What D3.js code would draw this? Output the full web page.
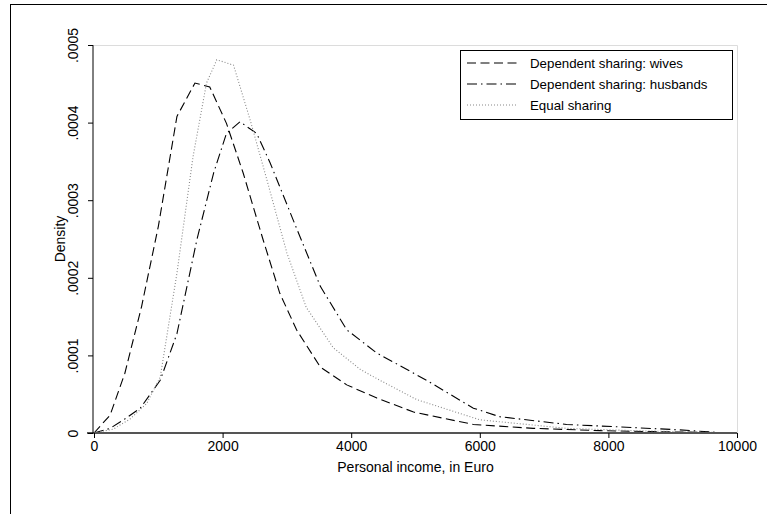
<!DOCTYPE html>
<html>
<head>
<meta charset="utf-8">
<script src="https://cdn.jsdelivr.net/npm/d3@7"></script>
<style>
  body { margin: 0; background: #fff; }
  text { font-family: "Liberation Sans", Arial, sans-serif; fill: #000; }
</style>
</head>
<body>
<div id="chart"></div>
<script>
// kernel density curves, income in Euro, density
const wivesIncome = [0, 250, 480, 740, 1000, 1290, 1570, 1800, 2060, 2320, 2630, 2890, 3150, 3520, 3930, 4400, 4970, 5900, 6830, 7870, 8900, 9750];
const wivesDensity = [0, 0.000023, 0.000077, 0.000163, 0.000266, 0.000408, 0.000451, 0.000446, 0.000399, 0.000335, 0.000249, 0.00018, 0.000133, 0.000085, 0.000062, 0.000045, 0.000027, 0.000011, 0.000006, 0.000003, 0.0000015, 0.0000005];

const husbandsIncome = [0, 250, 460, 720, 1030, 1290, 1600, 1860, 2060, 2270, 2530, 2740, 3100, 3520, 3930, 4400, 5170, 5900, 6310, 7350, 8390, 9110, 9750];
const husbandsDensity = [0, 0.000006, 0.000017, 0.000032, 0.000068, 0.000128, 0.000249, 0.000335, 0.000386, 0.000401, 0.000386, 0.000348, 0.000274, 0.000189, 0.000133, 0.000103, 0.000068, 0.000032, 0.000021, 0.000011, 0.000007, 0.000004, 0.0000005];

const equalIncome = [0, 300, 560, 820, 1030, 1290, 1540, 1750, 1910, 2170, 2430, 2690, 3000, 3300, 3720, 4140, 4400, 5020, 6000, 7350, 8400, 9750];
const equalDensity = [0, 0.000005, 0.000018, 0.000038, 0.000072, 0.000206, 0.000356, 0.000451, 0.000481, 0.000474, 0.000403, 0.000326, 0.000232, 0.000162, 0.00011, 0.000082, 0.00007, 0.000043, 0.000017, 0.000006, 0.000003, 0.0000005];

const seriesNames = ["Dependent sharing: wives", "Dependent sharing: husbands", "Equal sharing"];
const xTicks = [0, 2000, 4000, 6000, 8000, 10000];
const yTicks = [0, 0.0001, 0.0002, 0.0003, 0.0004, 0.0005];

const W = 767, H = 514;
const margin = { top: 45, right: 30, bottom: 81, left: 93 };

const svg = d3.select("#chart").append("svg")
    .attr("width", W)
    .attr("height", H);

svg.append("rect").attr("width", W).attr("height", H).attr("fill", "#fff");

// outer frame (runs off the right and bottom)
svg.append("rect")
    .attr("x", 10.5).attr("y", 4.5)
    .attr("width", 900).attr("height", 700)
    .attr("fill", "none").attr("stroke", "#000").attr("stroke-width", 1);

const x = d3.scaleLinear().domain([0, 10000]).range([margin.left + 1, W - margin.right]);
const y = d3.scaleLinear().domain([0, 0.0005]).range([H - margin.bottom, margin.top]);

// light plot region border (top, right)
svg.append("path")
    .attr("d", `M${x(0)},${y(0.0005) + 0.5}H${x(10000) + 0.5}V${y(0)}`)
    .attr("fill", "none").attr("stroke", "#dcdcdc").attr("stroke-width", 1);

const series = [
    { name: seriesNames[0], xs: wivesIncome, ys: wivesDensity, color: "#000", dash: "9,4.5" },
    { name: seriesNames[1], xs: husbandsIncome, ys: husbandsDensity, color: "#000", dash: "10,4,1.5,4" },
    { name: seriesNames[2], xs: equalIncome, ys: equalDensity, color: "#888", dash: "1,2" }
];

const line = d3.line()
    .x(d => x(d[0]))
    .y(d => y(d[1]));

series.forEach(s => {
    svg.append("path")
        .datum(s.xs.map((v, i) => [v, s.ys[i]]))
        .attr("d", line)
        .attr("fill", "none")
        .attr("stroke", s.color)
        .attr("stroke-width", 1.1)
        .attr("stroke-dasharray", s.dash);
});

// x axis
const xAxis = svg.append("g")
    .attr("transform", `translate(0,${y(0)})`)
    .call(d3.axisBottom(x).tickValues(xTicks).tickSize(5).tickPadding(3).tickFormat(d3.format("d")));
xAxis.select(".domain")
    .attr("d", `M${x(0) - 7},0H${x(10000)}`)
    .attr("stroke", "#555").attr("stroke-width", 2);
xAxis.selectAll(".tick line").attr("stroke", "#000");
xAxis.selectAll(".tick text").style("font-size", "14px").style("font-family", "Liberation Sans, Arial, sans-serif");

// y axis
const yAxis = svg.append("g")
    .attr("transform", `translate(${margin.left},0)`)
    .call(d3.axisLeft(y).tickValues(yTicks).tickSize(5)
        .tickFormat(d => d === 0 ? "0" : d.toFixed(4).replace(/^0/, "")));
yAxis.select(".domain").attr("d", `M0,${y(0.0005)}V${y(0)}`).attr("stroke", "#000");
yAxis.selectAll(".tick text")
    .attr("x", null).attr("dy", null)
    .attr("transform", "translate(-15,0) rotate(-90)")
    .attr("text-anchor", "middle")
    .style("font-size", "14px")
    .style("font-family", "Liberation Sans, Arial, sans-serif");

// axis titles
svg.append("text")
    .attr("x", (x(0) + x(10000)) / 2)
    .attr("y", 472)
    .attr("text-anchor", "middle")
    .style("font-size", "14px")
    .text("Personal income, in Euro");

svg.append("text")
    .attr("transform", `translate(65,${(y(0) + y(0.0005)) / 2}) rotate(-90)`)
    .attr("text-anchor", "middle")
    .style("font-size", "14px")
    .text("Density");

// legend
const legend = svg.append("g").attr("transform", "translate(460,50)");
legend.append("rect")
    .attr("x", 0.5).attr("y", 0.5)
    .attr("width", 272).attr("height", 69)
    .attr("fill", "#fff").attr("stroke", "#000");

series.forEach((s, i) => {
    const ly = 13 + i * 21;
    legend.append("line")
        .attr("x1", 7).attr("x2", 57)
        .attr("y1", ly).attr("y2", ly)
        .attr("stroke", s.color)
        .attr("stroke-width", 1.1)
        .attr("stroke-dasharray", s.dash);
    legend.append("text")
        .attr("x", 70)
        .attr("y", ly + 5)
        .style("font-size", "13.3px")
        .text(s.name);
});
</script>
</body>
</html>
